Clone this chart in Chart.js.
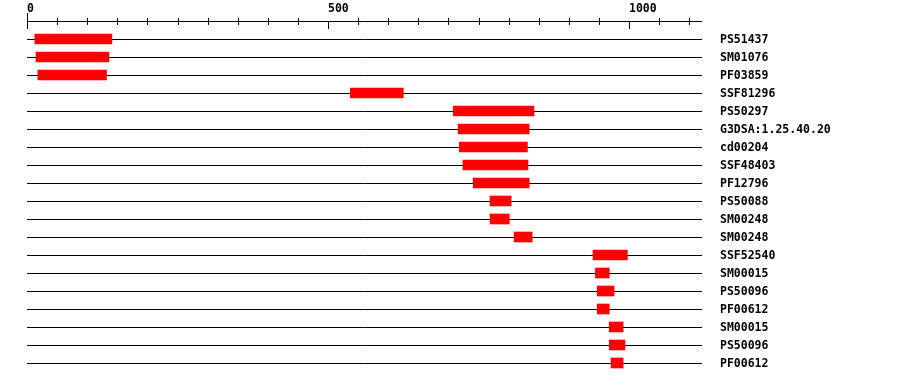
<!DOCTYPE html>
<html>
<head>
<meta charset="utf-8">
<script src="https://cdn.jsdelivr.net/npm/chart.js@4/dist/chart.umd.min.js"></script>
<style>
  html, body { margin: 0; padding: 0; background: #fff; }
  canvas { display: block; }
</style>
</head>
<body>
<canvas id="chart" width="900" height="382"></canvas>
<script>
const labels = ["PS51437", "SM01076", "PF03859", "SSF81296", "PS50297", "G3DSA:1.25.40.20",
  "cd00204", "SSF48403", "PF12796", "PS50088", "SM00248", "SM00248", "SSF52540",
  "SM00015", "PS50096", "PF00612", "SM00015", "PS50096", "PF00612"];
const starts = [13, 15, 18, 537, 708, 716, 718, 724, 741, 769, 769, 809, 940, 944, 947, 947, 967, 967, 970];
const ends = [141, 136, 132, 625, 842, 834, 831, 832, 834, 804, 801, 839, 997, 967, 975, 967, 990, 993, 990];
const axisLabels = [0, 500, 1000];
const axisMax = 1121;
const minorStep = 50;

const FONT = "bold 11.5px 'DejaVu Sans Mono', 'Liberation Mono', monospace";

// top ruler and the names on the right
const rulerPlugin = {
  id: "ruler",
  afterDraw(chart) {
    const ctx = chart.ctx;
    const x = chart.scales.x;
    const y = chart.scales.y;
    const area = chart.chartArea;
    const axisY = 21.5;

    ctx.save();
    ctx.strokeStyle = "#000";
    ctx.lineWidth = 1;
    ctx.beginPath();
    ctx.moveTo(area.left, axisY);
    ctx.lineTo(area.right, axisY);
    for (let v = 0; v <= axisMax; v += minorStep) {
      const px = Math.round(x.getPixelForValue(v)) + 0.5;
      if (v === 0) {
        ctx.moveTo(px, 13); ctx.lineTo(px, 29);
      } else if (axisLabels.includes(v)) {
        ctx.moveTo(px, 21); ctx.lineTo(px, 29);
      } else {
        ctx.moveTo(px, 18); ctx.lineTo(px, 25);
      }
    }
    ctx.stroke();

    ctx.fillStyle = "#000";
    ctx.font = FONT;
    ctx.textAlign = "left";
    ctx.textBaseline = "middle";
    axisLabels.forEach(v => {
      ctx.fillText(String(v), Math.round(x.getPixelForValue(v)), 9);
    });

    labels.forEach((name, i) => {
      ctx.fillText(name, 720, y.getPixelForValue(i) + 1.5);
    });
    ctx.restore();
  }
};

new Chart(document.getElementById("chart"), {
  type: "bar",
  data: {
    labels: labels,
    datasets: [{
      data: starts.map((s, i) => [s, ends[i]]),
      backgroundColor: "#ff0000",
      borderWidth: 0,
      barThickness: 10
    }]
  },
  options: {
    indexAxis: "y",
    responsive: false,
    animation: false,
    layout: { padding: { left: 27, right: 198, top: 30, bottom: 10 } },
    plugins: { legend: { display: false }, tooltip: { enabled: false } },
    scales: {
      x: { type: "linear", min: 0, max: axisMax, display: false },
      y: {
        display: true,
        grid: { offset: false, color: "#000", lineWidth: 1, drawTicks: false },
        ticks: { display: false },
        border: { display: false }
      }
    }
  },
  plugins: [rulerPlugin]
});
</script>
</body>
</html>
